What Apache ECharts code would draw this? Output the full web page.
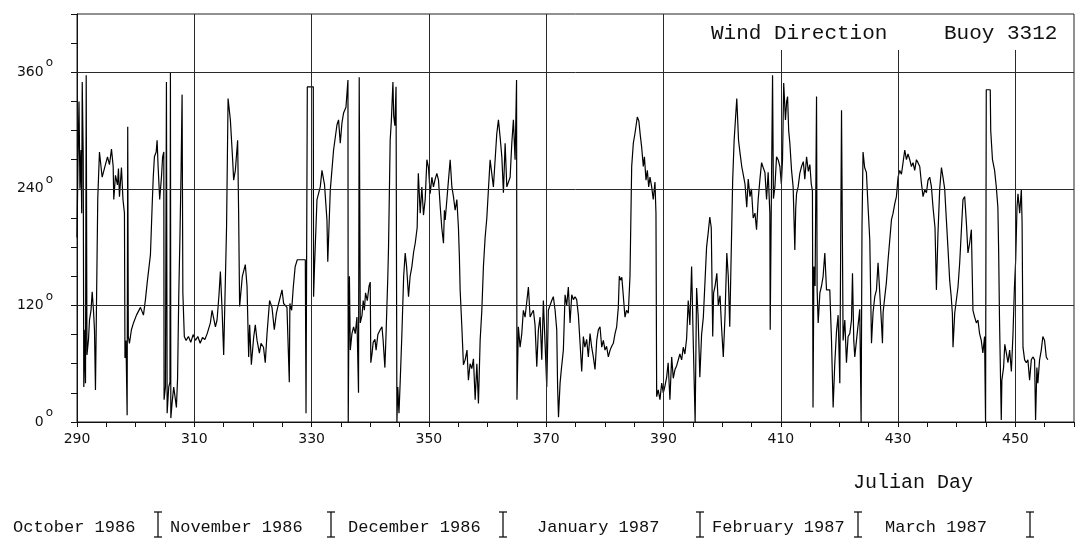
<!DOCTYPE html>
<html>
<head>
<meta charset="utf-8">
<title>Wind Direction - Buoy 3312</title>
<script src="https://cdn.jsdelivr.net/npm/echarts@6.0.0/dist/echarts.min.js"></script>
<style>
  html, body { margin: 0; padding: 0; background: #ffffff; }
  #chart { width: 1082px; height: 544px; }
</style>
</head>
<body>
<div id="chart"></div>
<script>
// Wind direction (degrees) against Julian day, buoy 3312, Oct 1986 - Mar 1987
const windDirection = [
[290.00,190],[290.17,270],[290.34,330],[290.50,240],[290.68,280],[290.80,215],[290.89,350],[291.06,275],[291.16,36],[291.36,95],
[291.45,40],[291.57,357],[291.70,69],[291.96,85],[292.13,105],[292.39,115],[292.59,134],[292.81,115],[292.98,95],[293.15,33],
[293.54,230],[293.83,278],[294.29,252],[294.68,261],[295.20,273],[295.54,265],[295.88,281],[296.17,263],[296.27,229],[296.56,254],
[296.90,244],[297.07,261],[297.24,232],[297.58,262],[297.84,229],[298.09,215],[298.18,66],[298.35,84],[298.55,7],[298.65,304],
[298.75,88],[298.94,81],[299.28,95],[299.63,102],[300.14,110],[300.82,118],[301.33,110],[301.67,126],[301.96,143],[302.52,172],
[302.80,220],[303.00,252],[303.20,273],[303.50,278],[303.66,290],[303.83,263],[304.10,229],[304.40,252],[304.60,273],[304.80,278],
[304.85,23],[305.08,36],[305.25,350],[305.37,9],[305.64,36],[305.85,41],[305.93,360],[306.00,4],[306.22,20],[306.49,36],
[306.78,23],[306.95,15],[307.15,45],[307.35,130],[307.55,190],[307.75,260],[307.92,337],[308.05,133],[308.30,88],[308.60,84],
[309.00,88],[309.40,82],[309.80,90],[310.20,84],[310.60,88],[311.00,81],[311.40,87],[311.80,85],[312.20,91],[312.74,102],
[313.03,115],[313.60,98],[313.88,105],[314.20,130],[314.45,155],[314.74,115],[315.01,69],[315.30,71],[315.50,200],[315.76,333],
[316.15,311],[316.54,270],[316.71,249],[317.00,259],[317.39,290],[317.56,215],[317.73,119],[318.19,150],[318.70,162],[318.99,140],
[319.27,67],[319.44,100],[319.73,59],[320.12,87],[320.40,100],[320.70,84],[321.10,71],[321.38,81],[321.80,77],[322.10,61],
[322.40,91],[322.84,125],[323.25,118],[323.64,95],[324.00,112],[324.38,122],[324.96,136],[325.23,122],[325.80,118],[326.20,41],
[326.30,122],[326.60,115],[326.88,139],[327.20,160],[327.56,167],[328.00,167],[328.50,167],[328.93,167],[329.05,9],[329.27,345],
[329.80,345],[330.29,345],[330.34,129],[330.50,160],[330.92,229],[331.48,242],[331.77,259],[332.21,244],[332.62,208],[332.76,165],
[333.19,239],[333.75,280],[334.33,306],[334.60,311],[334.89,287],[335.18,308],[335.45,318],[335.86,324],[336.20,352],[336.25,0],
[336.35,91],[336.45,150],[336.60,74],[336.88,91],[337.16,98],[337.45,91],[337.73,108],[338.00,30],[338.12,355],[338.30,102],
[338.60,110],[338.80,125],[339.00,115],[339.20,133],[339.50,125],[339.80,140],[340.00,144],[340.10,61],[340.30,70],[340.50,82],
[340.80,85],[341.00,74],[341.30,90],[341.70,95],[342.00,98],[342.20,84],[342.50,56],[342.70,91],[343.00,150],[343.12,180],
[343.40,290],[343.60,310],[343.87,350],[344.00,315],[344.20,305],[344.40,345],[344.55,0],[344.70,36],[344.90,9],[345.10,40],
[345.40,91],[345.70,150],[345.96,174],[346.20,160],[346.53,129],[346.80,150],[347.10,160],[347.40,175],[347.67,184],[348.00,200],
[348.20,256],[348.52,215],[348.80,242],[349.08,213],[349.37,229],[349.66,270],[349.93,262],[350.22,235],[350.51,252],[350.78,242],
[351.07,250],[351.36,256],[351.64,249],[351.93,222],[352.20,200],[352.49,184],[352.65,218],[352.78,208],[353.07,229],[353.34,249],
[353.63,270],[353.92,242],[354.19,232],[354.48,218],[354.77,229],[355.04,200],[355.20,170],[355.33,136],[355.62,98],[355.89,59],
[356.18,64],[356.50,74],[356.74,43],[357.03,60],[357.32,55],[357.60,65],[357.89,23],[358.18,60],[358.45,19],[358.74,84],
[359.03,115],[359.30,160],[359.59,190],[359.88,210],[360.15,239],[360.44,270],[361.00,242],[361.58,297],[361.86,311],[362.15,293],
[362.44,273],[362.71,236],[363.00,287],[363.29,242],[363.85,252],[364.14,287],[364.41,311],[364.70,270],[364.95,352],[365.02,23],
[365.26,98],[365.55,77],[365.84,91],[366.11,115],[366.40,108],[366.69,110],[366.97,139],[367.26,108],[367.55,112],[367.82,115],
[368.10,100],[368.40,57],[368.67,95],[368.96,108],[369.25,64],[369.52,125],[369.81,81],[370.10,36],[370.37,115],[370.65,120],
[370.95,125],[371.22,129],[371.52,115],[371.80,95],[371.95,36],[372.10,5],[372.37,40],[372.60,55],[372.93,74],[373.22,131],
[373.50,120],[373.78,139],[374.07,102],[374.36,131],[374.65,126],[374.92,129],[375.20,126],[375.49,110],[375.78,81],[376.06,52],
[376.34,88],[376.60,77],[376.90,85],[377.19,67],[377.48,91],[377.76,77],[378.04,67],[378.33,54],[378.62,84],[378.90,95],
[379.18,98],[379.47,77],[379.75,84],[380.03,74],[380.30,78],[380.60,67],[380.90,74],[381.17,78],[381.45,81],[381.74,91],
[382.02,98],[382.30,118],[382.47,150],[382.70,146],[382.90,149],[383.15,151],[383.44,108],[383.70,115],[384.00,112],[384.29,150],
[384.58,263],[384.86,287],[385.14,297],[385.54,314],[385.80,310],[386.05,295],[386.28,283],[386.56,263],[386.75,273],[387.02,249],
[387.25,259],[387.48,242],[387.70,252],[387.99,242],[388.26,229],[388.55,247],[388.72,215],[388.84,26],[389.10,33],[389.40,23],
[389.70,40],[389.97,30],[390.25,37],[390.54,46],[390.80,61],[391.10,23],[391.40,67],[391.67,45],[391.96,54],[392.25,58],
[392.52,60],[392.80,70],[393.10,64],[393.37,77],[393.65,70],[393.95,86],[394.22,125],[394.50,100],[394.80,160],[395.10,77],
[395.40,0],[395.65,138],[395.90,110],[396.20,46],[396.50,90],[396.80,108],[397.07,143],[397.35,180],[397.63,195],[397.90,211],
[398.15,200],[398.40,88],[398.55,133],[398.80,140],[399.10,153],[399.35,120],[399.65,130],[399.90,98],[400.20,67],[400.50,110],
[400.80,174],[401.05,150],[401.30,98],[401.55,100],[401.80,249],[402.05,290],[402.30,314],[402.50,333],[402.80,290],[403.05,277],
[403.35,263],[403.60,255],[403.90,245],[404.20,221],[404.45,250],[404.75,232],[405.00,240],[405.30,210],[405.60,215],[405.87,198],
[406.15,229],[406.45,250],[406.73,267],[407.00,262],[407.30,257],[407.58,229],[407.85,257],[408.14,215],[408.20,95],[408.35,200],
[408.60,357],[408.75,230],[409.00,242],[409.28,273],[409.55,270],[409.85,263],[410.10,245],[410.30,270],[410.50,349],[410.80,311],
[411.00,330],[411.16,335],[411.35,300],[411.55,287],[411.84,259],[412.11,242],[412.40,177],[412.55,220],[412.69,235],[412.96,242],
[413.25,256],[413.54,263],[413.85,268],[414.10,250],[414.40,273],[414.70,258],[414.96,265],[415.20,245],[415.40,238],[415.50,15],
[415.65,160],[415.85,140],[416.10,335],[416.20,136],[416.38,102],[416.67,133],[416.95,140],[417.22,150],[417.51,174],[417.80,136],
[418.10,136],[418.36,136],[418.65,84],[418.93,15],[419.20,59],[419.50,93],[419.78,110],[420.07,40],[420.36,321],[420.63,84],
[420.92,105],[421.20,61],[421.48,88],[421.77,91],[422.06,105],[422.23,153],[422.45,84],[422.62,67],[422.91,84],[423.18,84],
[423.47,116],[423.70,0],[423.85,200],[424.03,278],[424.30,262],[424.60,257],[424.89,221],[425.18,187],[425.47,81],[425.74,113],
[426.03,129],[426.32,136],[426.59,164],[426.88,133],[427.17,102],[427.34,81],[427.45,113],[427.74,129],[428.00,143],[428.30,167],
[428.58,187],[428.87,208],[429.15,215],[429.45,225],[429.72,232],[430.00,252],[430.29,259],[430.58,255],[430.85,267],[431.14,280],
[431.43,270],[431.70,276],[431.99,270],[432.28,263],[432.55,267],[432.84,259],[433.13,270],[433.40,267],[433.70,263],[433.98,246],
[434.26,232],[434.55,239],[434.84,236],[435.11,249],[435.40,252],[435.69,242],[435.96,221],[436.30,200],[436.54,136],[436.81,195],
[437.10,240],[437.40,262],[437.66,252],[437.95,240],[438.24,208],[438.50,180],[438.80,146],[439.05,130],[439.26,112],[439.37,77],
[439.66,112],[439.95,112],[440.22,139],[440.51,164],[440.80,198],[441.07,229],[441.36,232],[441.65,205],[441.92,174],[442.21,184],
[442.50,198],[442.77,115],[443.06,108],[443.35,102],[443.62,105],[443.90,91],[444.19,84],[444.46,71],[444.75,88],[444.92,0],
[445.04,342],[445.72,342],[445.80,300],[446.10,270],[446.46,259],[446.75,242],[447.02,221],[447.15,177],[447.30,105],[447.60,2],
[447.70,43],[447.99,56],[448.20,80],[448.47,71],[448.74,61],[449.03,74],[449.32,52],[449.60,91],[449.85,140],[450.06,167],
[450.28,221],[450.45,235],[450.74,215],[451.02,239],[451.15,205],[451.30,77],[451.58,64],[451.87,61],[452.14,64],[452.43,43],
[452.72,64],[452.99,67],[453.28,64],[453.45,2],[453.67,56],[453.84,40],[454.13,64],[454.42,74],[454.69,88],[454.98,84],
[455.27,67],[455.54,64]
];

// Axis ranges and labelled ticks
const dayRange = [290, 460];
const dayLabelDays = [290, 310, 330, 350, 370, 390, 410, 430, 450];
const degreeRange = [0, 420];
const degreeLabels = [0, 120, 240, 360];

// Reference grid lines (days running the full height, days stopping under the heading)
const fullGridDays = [310, 330, 350, 370, 390];
const shortGridDays = [410, 430, 450];
const shortGridTop = 383;

// Heading and footer texts
const headingTexts = ['Wind Direction', 'Buoy 3312'];
const axisTitle = 'Julian Day';
const monthNames = ['October 1986', 'November 1986', 'December 1986', 'January 1987', 'February 1987', 'March 1987'];

// Page layout for the text rows (pixels)
const headingX = [711, 944];
const headingY = 33;
const axisTitlePos = [853, 483];
const monthTextX = [13, 170, 348, 537, 712, 885];
const monthMarkX = [158, 331, 503, 700, 858, 1030];
const monthRowY = 527;

const INK = '#111111';
const MONO = '"Liberation Mono", "DejaVu Sans Mono", monospace';

const chart = echarts.init(document.getElementById('chart'), null, { renderer: 'canvas' });

const gridLineData = [];
degreeLabels.filter(v => v > 0).forEach(v => gridLineData.push({ yAxis: v }));
fullGridDays.forEach(d => gridLineData.push([{ coord: [d, degreeRange[0]] }, { coord: [d, degreeRange[1]] }]));
shortGridDays.forEach(d => gridLineData.push([{ coord: [d, degreeRange[0]] }, { coord: [d, shortGridTop] }]));

const graphics = [];
headingTexts.forEach((t, i) => graphics.push({
  type: 'text', x: headingX[i], y: headingY, silent: true,
  style: { text: t, font: '21px ' + MONO, fill: INK, verticalAlign: 'middle', align: 'left' }
}));
graphics.push({
  type: 'text', x: axisTitlePos[0], y: axisTitlePos[1], silent: true,
  style: { text: axisTitle, font: '20px ' + MONO, fill: INK, verticalAlign: 'middle', align: 'left' }
});
monthNames.forEach((m, i) => graphics.push({
  type: 'text', x: monthTextX[i], y: monthRowY, silent: true,
  style: { text: m, font: '17px ' + MONO, fill: INK, verticalAlign: 'middle', align: 'left' }
}));
// I-beam month separators
monthMarkX.forEach(x => {
  const top = monthRowY - 15, bottom = monthRowY + 10, half = 4;
  const ls = { stroke: INK, lineWidth: 1.3 };
  graphics.push({ type: 'line', silent: true, shape: { x1: x, y1: top, x2: x, y2: bottom }, style: ls });
  graphics.push({ type: 'line', silent: true, shape: { x1: x - half, y1: top, x2: x + half, y2: top }, style: ls });
  graphics.push({ type: 'line', silent: true, shape: { x1: x - half, y1: bottom, x2: x + half, y2: bottom }, style: ls });
});

const option = {
  backgroundColor: '#ffffff',
  animation: false,
  grid: {
    left: 77, right: 8, top: 14, bottom: 122,
    show: true, borderColor: '#222222', borderWidth: 1,
    containLabel: false, outerBoundsMode: 'none'
  },
  xAxis: {
    type: 'value',
    min: dayRange[0], max: dayRange[1], interval: 5,
    axisLine: { show: true, onZero: false, lineStyle: { color: INK, width: 1 } },
    axisTick: { show: true, inside: false, length: 5, lineStyle: { color: INK, width: 1 } },
    axisLabel: {
      margin: 10, color: INK, fontFamily: 'DejaVu Sans', fontSize: 14,
      formatter: v => dayLabelDays.includes(v) ? String(v) : ''
    },
    splitLine: { show: false }
  },
  yAxis: {
    type: 'value',
    min: degreeRange[0], max: degreeRange[1], interval: 30,
    axisLine: { show: true, onZero: false, lineStyle: { color: INK, width: 1 } },
    axisTick: { show: true, inside: false, length: 6, lineStyle: { color: INK, width: 1 } },
    axisLabel: {
      margin: 24, color: INK,
      formatter: v => degreeLabels.includes(v) ? '{n|' + v + '}{s|o}' : '',
      rich: {
        n: { fontFamily: 'DejaVu Sans', fontSize: 14, color: INK, lineHeight: 30, verticalAlign: 'middle' },
        s: { fontFamily: 'DejaVu Sans', fontSize: 12, color: INK, lineHeight: 12, verticalAlign: 'top', padding: [0, 0, 0, 2] }
      }
    },
    splitLine: { show: false }
  },
  series: [{
    name: 'Wind Direction',
    type: 'line',
    data: windDirection,
    showSymbol: false,
    symbol: 'none',
    clip: true,
    lineStyle: { color: '#000000', width: 1.2 },
    markLine: {
      silent: true,
      symbol: ['none', 'none'],
      label: { show: false },
      lineStyle: { color: '#2a2a2a', width: 1, type: 'solid' },
      emphasis: { disabled: true },
      data: gridLineData
    },
    z: 3
  }],
  graphic: graphics
};

chart.setOption(option);
</script>
</body>
</html>
